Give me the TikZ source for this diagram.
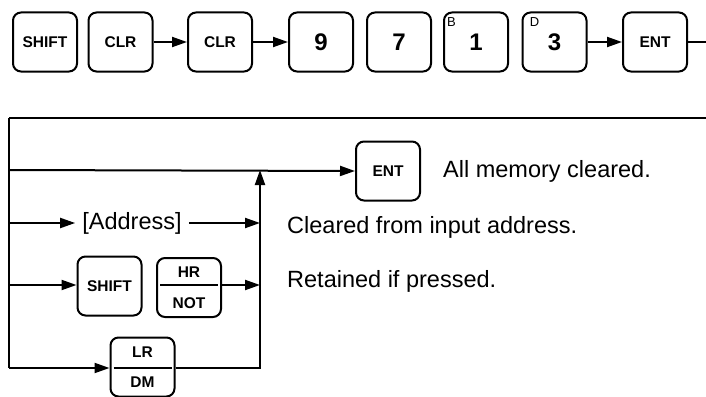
\documentclass[tikz,border=0pt]{standalone}
\usepackage{fontspec}
\setmainfont{Liberation Sans}
\setsansfont{Liberation Sans}
\usetikzlibrary{positioning, arrows.meta, calc}

\begin{document}
\begin{tikzpicture}[
		x=1pt, y=-1pt,
		>={Triangle[length=15pt, width=10pt]},
		% Key caps (fixed size so that every key has the same outline)
		keybox/.style={
				rectangle, rounded corners=8pt, draw=black, line width=2pt,
				minimum width=64pt, minimum height=59pt, inner sep=0pt,
				font=\sffamily\bfseries\fontsize{15.5}{15.5}\selectfont, align=center
			},
		digitkey/.style={keybox, font=\sffamily\bfseries\fontsize{24}{24}\selectfont},
		keysup/.style={font=\sffamily\fontsize{13}{13}\selectfont, inner sep=0pt},
		% Lines
		flow/.style={->, line width=2pt, draw=black},
		plainline/.style={line width=2pt, draw=black},
		fracline/.style={line width=1.5pt, draw=black},
		frameline/.style={line width=2.6pt, draw=black},
		% Texts
		note/.style={font=\sffamily\fontsize{23.5}{24}\selectfont, anchor=base west, inner sep=0pt}
	]

	\useasboundingbox (0,0) rectangle (706,396);

	% ==========================================
	% 1. KEY SEQUENCE (TOP ROW, Y=42)
	% ==========================================

	\node[keybox] (shift) at (45, 42) {SHIFT};
	\node[keybox] (clra) at (120.5, 42) {CLR};
	\node[keybox] (clrb) at (220, 42) {CLR};
	\node[digitkey] (nine) at (321, 42) {9};
	\node[digitkey] (seven) at (399, 42) {7};
	\node[digitkey] (one) at (476, 42) {1};
	\node[digitkey] (three) at (554.5, 42) {3};
	\node[keybox] (enta) at (655, 42) {ENT};
	\coordinate (rowend) at (706, 42);

	% Small letters on the digit keys
	\node[keysup] (onesup) at ([shift={(8.5pt,-11pt)}]one.north west) {B};
	\node[keysup] (threesup) at ([shift={(13pt,-11pt)}]three.north west) {D};

	\draw[flow] (clra.east) -- (clrb.west);
	\draw[flow] (clrb.east) -- (nine.west);
	\draw[flow] (three.east) -- (enta.west);
	\draw[plainline] (enta.east) -- (rowend);


	% ==========================================
	% 2. FRAME (TOP LINE AND LEFT BUS, X=9)
	% ==========================================

	\coordinate (frametl) at (9, 118);
	\coordinate (frametr) at (706, 118);
	\coordinate (framebl) at (9, 368);
	\draw[frameline] (frametr) -- (frametl);
	\draw[plainline] (frametl) -- (framebl);


	% ==========================================
	% 3. BRANCHES (JOIN AT X=260)
	% ==========================================

	\coordinate (join) at (260, 170);
	\coordinate (joinaddr) at (260, 223);
	\coordinate (joinhr) at (260, 285);
	\coordinate (joinbot) at (260, 368);

	% Branch 1: straight to ENT
	\node[keybox] (entb) at (388, 171) {ENT};
	\draw[flow] (frametl |- join) -- (entb.west);

	% Branch 2: address
	\node[font=\sffamily\fontsize{23.5}{24}\selectfont, inner ysep=0pt, inner xsep=7pt]
	(addr) at (132, 223) {[Address]};
	\draw[flow] (frametl |- addr.west) -- (addr.west);
	\draw[flow] (addr.east) -- (joinaddr);

	% Branch 3: SHIFT + HR/NOT
	\node[keybox] (shiftb) at (109.5, 286) {SHIFT};
	\node[keybox] (hrnot) at (189, 287.5) {HR\\[15pt]NOT};
	\draw[fracline] ([xshift=4pt]hrnot.west |- joinhr) -- ([xshift=-4pt]hrnot.east |- joinhr);
	\draw[flow] (frametl |- joinhr) -- (shiftb.west |- joinhr);
	\draw[flow] (hrnot.east |- joinhr) -- (joinhr);

	% Branch 4: LR/DM along the bottom, then up into the join
	\node[keybox] (lrdm) at (142.5, 367) {LR\\[15pt]DM};
	\draw[fracline] ([xshift=4pt]lrdm.west |- joinbot) -- ([xshift=-4pt]lrdm.east |- joinbot);
	\draw[flow] (framebl) -- (lrdm.west |- framebl);
	\draw[flow] (lrdm.east |- joinbot) -- (joinbot) -- (join);


	% ==========================================
	% 4. RESULTS
	% ==========================================

	\node[note] (allcleared) at (443, 177) {All memory cleared.};
	\node[note] (addrcleared) at (287, 233) {Cleared from input address.};
	\node[note] (retained) at (287, 287) {Retained if pressed.};

\end{tikzpicture}
\end{document}
